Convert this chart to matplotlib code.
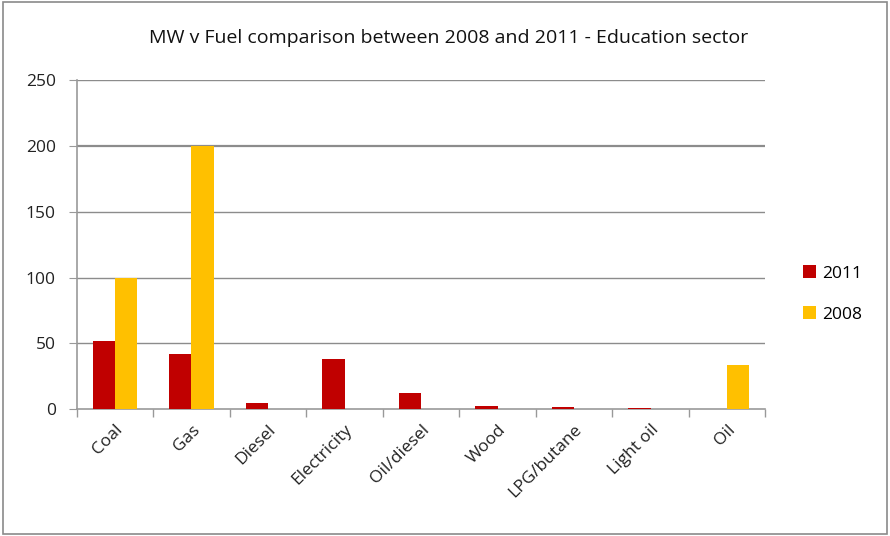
import numpy as np
import matplotlib.pyplot as plt
from matplotlib.patches import Rectangle

fuels = ['Coal', 'Gas', 'Diesel', 'Electricity', 'Oil/diesel', 'Wood', 'LPG/butane', 'Light oil', 'Oil']
mw_2011 = [52, 42, 4.5, 38.5, 12, 2.8, 1.8, 1, 0]
mw_2008 = [100, 200, 0, 0, 0, 0, 0, 0, 33.5]

plt.rcParams['font.family'] = ['Open Sans', 'DejaVu Sans']

fig = plt.figure(figsize=(8.9, 5.36), dpi=100)
ax = fig.add_axes([0.0862, 0.2364, 0.7738, 0.6146])

x = np.arange(len(fuels))
w = 0.29
ax.bar(x - w / 2, mw_2011, w, color='#C00000', label='2011', zorder=3)
ax.bar(x + w / 2, mw_2008, w, color='#FFC000', label='2008', zorder=3)

ax.set_xlim(-0.5, len(fuels) - 0.5)
ax.set_ylim(0, 250)
ax.set_yticks(range(0, 251, 50))
ax.tick_params(axis='y', labelsize=12.5, length=6, color='#999999', pad=9)
for t in ax.get_yticklabels():
    t.set_color('#222222')

# gridlines
for v in range(50, 251, 50):
    lw = 1.6 if v == 200 else 1.0
    ax.axhline(v, color='#8c8c8c', lw=lw, zorder=1)

# category ticks between groups
ax.set_xticks(np.arange(-0.5, len(fuels), 1.0))
ax.set_xticklabels([])
ax.tick_params(axis='x', length=6, color='#999999', width=1)
ax.set_xticks(x, minor=True)
ax.set_xticklabels(fuels, minor=True, rotation=45, ha='right', rotation_mode='anchor',
                   fontsize=12.5, color='#222222')
ax.tick_params(axis='x', which='minor', length=0, pad=9)

for s in ['top', 'right']:
    ax.spines[s].set_visible(False)
for s in ['left', 'bottom']:
    ax.spines[s].set_color('#999999')
    ax.spines[s].set_linewidth(1.2)

fig.text(0.504, 0.929, 'MW v Fuel comparison between 2008 and 2011 - Education sector',
         ha='center', va='center', fontsize=14, color='#111111')

ax.legend(loc='center left', bbox_to_anchor=(1.042, 0.35), frameon=False, fontsize=12.5,
          borderpad=0, handlelength=0.75, handleheight=0.75, handletextpad=0.35,
          labelspacing=1.4)

fig.patches.append(Rectangle((0.003, 0.004), 0.994, 0.992, transform=fig.transFigure,
                             fill=False, edgecolor='#8a8a8a', lw=1.2))

fig.savefig('out.png', dpi=100)
